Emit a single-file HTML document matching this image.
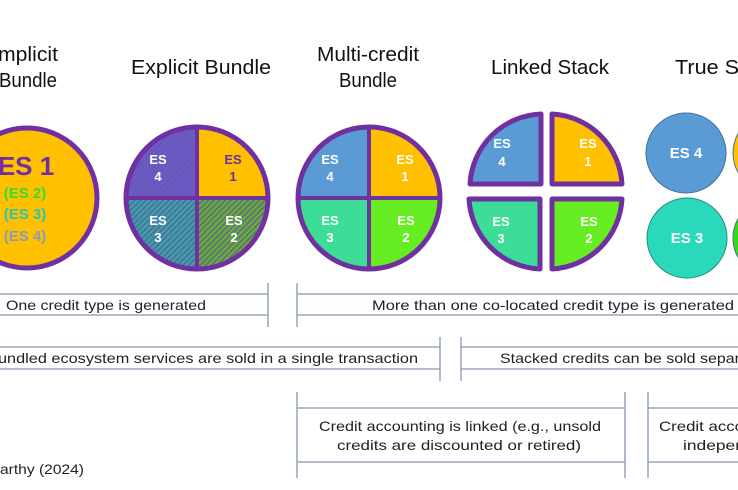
<!DOCTYPE html>
<html><head><style>html,body{margin:0;padding:0;background:#fff}svg{display:block}</style></head><body>
<svg width="738" height="490" viewBox="0 0 738 490" xmlns="http://www.w3.org/2000/svg" font-family="Liberation Sans, sans-serif">
<defs>
<pattern id="hp" width="4" height="4" patternUnits="userSpaceOnUse" patternTransform="rotate(45)"><rect width="4" height="4" fill="#5b5bc8"/><rect width="2" height="4" fill="#7a56b8"/></pattern>
<pattern id="ht" width="4" height="4" patternUnits="userSpaceOnUse" patternTransform="rotate(45)"><rect width="4" height="4" fill="#3aa8a0"/><rect width="2" height="4" fill="#4f6fa8"/></pattern>
<pattern id="hg" width="4" height="4" patternUnits="userSpaceOnUse" patternTransform="rotate(45)"><rect width="4" height="4" fill="#7aa83a"/><rect width="2" height="4" fill="#4f7f70"/></pattern>
</defs>
<g font-size="20" fill="#111" text-anchor="middle">
<text x="28" y="61" textLength="60" lengthAdjust="spacingAndGlyphs">mplicit</text>
<text x="28" y="87" textLength="58" lengthAdjust="spacingAndGlyphs">Bundle</text>
<text x="201" y="74" textLength="140" lengthAdjust="spacingAndGlyphs">Explicit Bundle</text>
<text x="368" y="61" textLength="102" lengthAdjust="spacingAndGlyphs">Multi-credit</text>
<text x="368" y="87" textLength="58" lengthAdjust="spacingAndGlyphs">Bundle</text>
<text x="550" y="74" textLength="118" lengthAdjust="spacingAndGlyphs">Linked Stack</text>
<text x="675" y="74" text-anchor="start" textLength="70" lengthAdjust="spacingAndGlyphs">True St</text>
</g>
<!-- Implicit -->
<circle cx="27" cy="198" r="70" fill="#ffc000" stroke="#7030a0" stroke-width="5"/>
<g font-weight="bold" text-anchor="middle">
<text x="26" y="175" font-size="26" fill="#7030a0">ES 1</text>
<text x="25" y="198" font-size="15" fill="#33dd33">(ES 2)</text>
<text x="25" y="219" font-size="15" fill="#2ec4a8">(ES 3)</text>
<text x="25" y="241" font-size="15" fill="#8a9ab8">(ES 4)</text>
</g>
<!-- Explicit -->
<path d="M197,198 V127 A71,71 0 0 0 126,198 Z" fill="url(#hp)"/>
<path d="M197,198 V127 A71,71 0 0 1 268,198 Z" fill="#ffc000"/>
<path d="M197,198 H126 A71,71 0 0 0 197,269 Z" fill="url(#ht)"/>
<path d="M197,198 H268 A71,71 0 0 1 197,269 Z" fill="url(#hg)"/>
<circle cx="197" cy="198" r="71" fill="none" stroke="#7030a0" stroke-width="5"/>
<path d="M197,127 V269 M126,198 H268" stroke="#7030a0" stroke-width="4"/>
<g font-size="13" font-weight="bold" text-anchor="middle" fill="#fff">
<text x="158" y="164">ES</text><text x="158" y="181">4</text>
<text x="233" y="164" fill="#7030a0">ES</text><text x="233" y="181" fill="#7030a0">1</text>
<text x="158" y="225">ES</text><text x="158" y="242">3</text>
<text x="234" y="225">ES</text><text x="234" y="242">2</text>
</g>
<!-- Multi-credit -->
<path d="M369,198 V127 A71,71 0 0 0 298,198 Z" fill="#5b9bd5"/>
<path d="M369,198 V127 A71,71 0 0 1 440,198 Z" fill="#ffc000"/>
<path d="M369,198 H298 A71,71 0 0 0 369,269 Z" fill="#3ddc97"/>
<path d="M369,198 H440 A71,71 0 0 1 369,269 Z" fill="#66ee22"/>
<circle cx="369" cy="198" r="71" fill="none" stroke="#7030a0" stroke-width="5"/>
<path d="M369,127 V269 M298,198 H440" stroke="#7030a0" stroke-width="4"/>
<g font-size="13" font-weight="bold" text-anchor="middle" fill="#fff">
<text x="330" y="164">ES</text><text x="330" y="181">4</text>
<text x="405" y="164">ES</text><text x="405" y="181">1</text>
<text x="330" y="225">ES</text><text x="330" y="242">3</text>
<text x="406" y="225">ES</text><text x="406" y="242">2</text>
</g>
<!-- Linked stack -->
<g stroke="#7030a0" stroke-width="5" stroke-linejoin="round">
<path d="M541,184 V114 A74,74 0 0 0 470,184 Z" fill="#5b9bd5"/>
<path d="M552,184 V114 A74,74 0 0 1 622,184 Z" fill="#ffc000"/>
<path d="M540,199 V269 A74,74 0 0 1 469,199 Z" fill="#3ddc97"/>
<path d="M552,199 V269 A74,74 0 0 0 622,199 Z" fill="#66ee22"/>
</g>
<g font-size="13" font-weight="bold" text-anchor="middle" fill="#fff">
<text x="502" y="148">ES</text><text x="502" y="166">4</text>
<text x="588" y="148">ES</text><text x="588" y="166">1</text>
<text x="501" y="226">ES</text><text x="501" y="243">3</text>
<text x="589" y="226">ES</text><text x="589" y="243">2</text>
</g>
<!-- True stack -->
<circle cx="686" cy="153" r="40" fill="#5b9bd5" stroke="#41719c" stroke-width="1"/>
<circle cx="687" cy="238" r="40" fill="#2ad9bb" stroke="#2a8a7c" stroke-width="1"/>
<circle cx="773" cy="153" r="40" fill="#ffc000" stroke="#41719c"/>
<circle cx="773" cy="238" r="40" fill="#33dd11" stroke="#41719c"/>
<g font-size="15" font-weight="bold" text-anchor="middle" fill="#fff">
<text x="686" y="158">ES 4</text><text x="687" y="243">ES 3</text>
</g>
<!-- brackets -->
<g stroke="#8496b0" stroke-width="1.3" fill="none">
<path d="M0,294 H268 M0,315 H268 M268,283 V327"/>
<path d="M297,283 V327 M297,294 H738 M297,315 H738"/>
<path d="M0,347 H440 M0,369 H440 M440,337 V381"/>
<path d="M461,337 V381 M461,347 H738 M461,369 H738"/>
<path d="M297,392 V478 M297,408 H625 M297,462 H625 M625,392 V478"/>
<path d="M648,392 V478 M648,408 H738 M648,462 H738"/>
</g>
<g font-size="14" fill="#222" text-anchor="middle">
<text x="106" y="310" textLength="200" lengthAdjust="spacingAndGlyphs">One credit type is generated</text>
<text x="553" y="310" textLength="362" lengthAdjust="spacingAndGlyphs">More than one co-located credit type is generated</text>
<text x="208" y="363" textLength="420" lengthAdjust="spacingAndGlyphs">undled ecosystem services are sold in a single transaction</text>
<text x="500" y="363" text-anchor="start" textLength="240" lengthAdjust="spacingAndGlyphs">Stacked credits can be sold separ</text>
<text x="460" y="431" textLength="282" lengthAdjust="spacingAndGlyphs">Credit accounting is linked (e.g., unsold</text>
<text x="459" y="450" textLength="244" lengthAdjust="spacingAndGlyphs">credits are discounted or retired)</text>
<text x="659" y="431" text-anchor="start" textLength="85" lengthAdjust="spacingAndGlyphs">Credit acco</text>
<text x="683" y="450" text-anchor="start" textLength="58" lengthAdjust="spacingAndGlyphs">indeper</text>
<text x="0" y="474" text-anchor="start" textLength="84" lengthAdjust="spacingAndGlyphs">arthy (2024)</text>
</g>
</svg>
</body></html>
